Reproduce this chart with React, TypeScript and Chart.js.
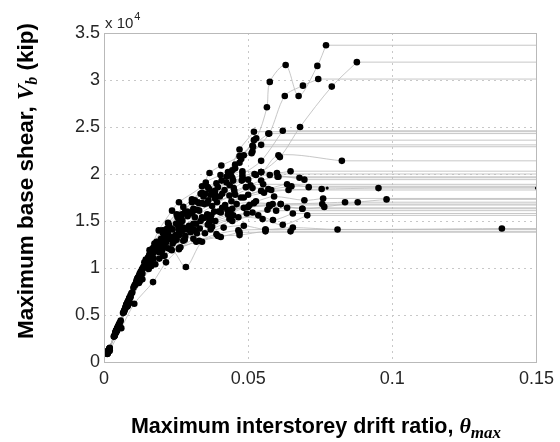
import React, { useEffect, useRef } from "react";
import { Chart, registerables } from "chart.js";

Chart.register(...registerables);

// Axis limits and ticks
const X_MAX = 0.15;
const Y_MAX = 35000;
const X_STEP = 0.05;
const Y_STEP = 5000;
const Y_SCALE_EXP = 4;

// IDA records: [max interstorey drift ratio, max base shear (kip)]
const rec01 = [[0.0012,900],[0.0035,2700],[0.0068,5300],[0.0105,8100],[0.0145,10900],[0.019,14000],[0.0236,16100],[0.026,17000],[0.034,18700],[0.0366,20100],[0.0407,20900],[0.047,21900],[0.0528,23800],[0.0565,27100],[0.0575,29800],[0.063,31600],[0.0675,28300],[0.074,31500],[0.077,33700]];
const rec02 = [[0.0015,1150],[0.0044,3400],[0.0082,6400],[0.0124,9400],[0.0166,12000],[0.0215,14100],[0.027,15700],[0.0325,17000],[0.038,18100],[0.0448,19300],[0.0527,19900],[0.061,21800],[0.068,25000],[0.079,29300],[0.0877,31900]];
const rec03 = [[0.0016,1250],[0.0048,3700],[0.0088,6800],[0.0132,9900],[0.0175,12600],[0.0222,14800],[0.0275,16500],[0.0335,17900],[0.039,19000],[0.0445,20400],[0.0476,21600],[0.0512,22200],[0.0573,24300],[0.0627,28300],[0.069,29400],[0.0743,30100]];
const rec04 = [[0.0013,1000],[0.004,3100],[0.0076,5900],[0.0116,8900],[0.0158,11900],[0.0202,14000],[0.0252,15700],[0.0305,17300],[0.036,18600],[0.0425,19700],[0.048,20300],[0.0545,20200],[0.0605,22000],[0.0825,21400]];
const rec05 = [[0.0014,1100],[0.0042,3300],[0.0078,6100],[0.0118,8900],[0.016,11600],[0.0205,13700],[0.0255,15400],[0.0315,17200],[0.0365,18400],[0.043,20200],[0.047,22600],[0.052,24500]];
const rec06 = [[0.0016,1200],[0.0047,3600],[0.0085,6500],[0.0128,9500],[0.0172,12200],[0.022,14200],[0.028,15900],[0.0345,17600],[0.0395,18600],[0.0445,19600],[0.0476,21900],[0.0515,23000],[0.057,24300]];
const rec07 = [[0.0011,850],[0.0038,2900],[0.007,5500],[0.0112,8500],[0.0155,11200],[0.0198,13100],[0.025,14700],[0.031,16300],[0.037,17800],[0.0425,19100],[0.048,20000],[0.0545,21400],[0.062,24600]];
const rec08 = [[0.0018,1400],[0.0052,4000],[0.0092,7100],[0.0136,10100],[0.0178,12300],[0.0228,14300],[0.0288,16000],[0.0352,17900],[0.0408,19300],[0.0455,20600],[0.0485,22000],[0.052,23600]];
const rec09 = [[0.0013,1000],[0.0045,3500],[0.0082,6300],[0.0122,9200],[0.0165,11700],[0.0212,13600],[0.0268,15100],[0.033,16900],[0.0385,18200],[0.044,19900],[0.047,21200],[0.0517,22900]];
const rec10 = [[0.0017,1300],[0.0049,3800],[0.0088,6800],[0.013,9700],[0.0168,11500],[0.021,12800],[0.026,14000],[0.0315,15400],[0.0375,16600],[0.0435,17700],[0.0492,18600],[0.0545,19300],[0.0602,19700],[0.0678,19600]];
const rec11 = [[0.0012,950],[0.0041,3200],[0.0076,5900],[0.0117,8900],[0.0158,11300],[0.0205,12900],[0.0258,14400],[0.0305,15800],[0.0362,17200],[0.0418,18300],[0.0478,19300],[0.0545,20200],[0.06,20100],[0.0647,20300]];
const rec12 = [[0.0015,1150],[0.0044,3400],[0.008,6200],[0.0121,9000],[0.0162,11000],[0.0208,12400],[0.0262,13500],[0.032,14700],[0.0382,16000],[0.0442,17100],[0.05,17800],[0.057,18400],[0.0635,18900],[0.071,18600]];
const rec13 = [[0.0019,1450],[0.0055,4200],[0.0095,7300],[0.0138,10000],[0.018,11900],[0.0235,13200],[0.0295,14500],[0.0358,15700],[0.042,16700],[0.0485,17500],[0.0555,18000],[0.064,18300],[0.0755,18400],[0.0952,18500]];
const rec14 = [[0.0014,1050],[0.0043,3300],[0.0079,6000],[0.0119,8700],[0.0158,10700],[0.0202,11900],[0.0252,13000],[0.0312,14100],[0.0372,15100],[0.0438,16000],[0.0505,16700],[0.0585,16800],[0.0688,16300],[0.0764,16500],[0.088,17000],[0.098,17300]];
const rec15 = [[0.0016,1250],[0.0046,3500],[0.0084,6400],[0.0125,9200],[0.0165,11300],[0.0215,12700],[0.027,13900],[0.0335,15000],[0.0398,16000],[0.046,16800],[0.0527,17100],[0.059,17600],[0.0695,17200],[0.076,17400]];
const rec16 = [[0.0013,1000],[0.0039,3000],[0.0073,5600],[0.0114,8500],[0.0152,10500],[0.0196,11800],[0.0245,12900],[0.0302,13900],[0.0365,14900],[0.043,15700],[0.05,16500],[0.0613,16800],[0.0757,16800]];
const rec17 = [[0.0018,1350],[0.0053,4000],[0.0092,6900],[0.0133,9400],[0.0172,11000],[0.0222,12100],[0.028,13000],[0.035,13700],[0.0415,14300],[0.0485,14500],[0.056,14100],[0.0655,14300],[0.081,14100],[0.138,14200]];
const rec18 = [[0.0015,1100],[0.0045,3300],[0.0081,5900],[0.0124,8600],[0.0164,10200],[0.021,11300],[0.0265,12200],[0.033,12900],[0.0395,13400],[0.047,13500],[0.056,13900],[0.0647,13900]];
const rec19 = [[0.0017,1250],[0.005,3600],[0.009,6300],[0.0133,8800],[0.0178,10400],[0.0235,11900],[0.0284,10100],[0.034,12800],[0.0405,13300],[0.047,13800]];
const rec20 = [[0.002,1200],[0.006,3600],[0.0105,6200],[0.017,8500],[0.0215,10600],[0.026,12000],[0.031,13100],[0.037,14100],[0.0445,15000],[0.0535,15600],[0.0586,15100],[0.0655,15800]];
const rec21 = [[0.0012,900],[0.0037,2800],[0.007,5400],[0.0109,8300],[0.0148,10400],[0.019,11700],[0.024,12800],[0.03,13800],[0.036,14600],[0.0466,15400],[0.055,15200],[0.062,14600],[0.0705,15600]];
const rec22 = [[0.0016,1200],[0.0048,3700],[0.0087,6700],[0.0129,9500],[0.017,11600],[0.0218,13000],[0.0275,14300],[0.034,15400],[0.0405,15900],[0.0485,16400],[0.0575,16600],[0.0688,16300]];
const rec23 = [[0.0013,1000],[0.004,3100],[0.0077,5900],[0.0116,8700],[0.0156,10900],[0.0198,12300],[0.0248,13500],[0.031,14700],[0.0372,15600],[0.0445,16300],[0.052,16900],[0.0613,16800],[0.0836,17000]];
const rec24 = [[0.0014,1100],[0.0043,3400],[0.0081,6300],[0.0124,9300],[0.0166,11900],[0.0212,13500],[0.0265,14800],[0.0322,16200],[0.0385,17400],[0.045,18500],[0.05,19400],[0.0575,19900],[0.0695,19400]];
const rec25 = [[0.0015,1150],[0.0046,3600],[0.0085,6600],[0.0127,9600],[0.0171,12100],[0.0218,13800],[0.0272,15000],[0.033,16100],[0.0392,17000],[0.0455,17800],[0.0515,18500],[0.058,18300]];
const rec26 = [[0.0017,1300],[0.0051,3900],[0.009,6900],[0.0131,9600],[0.0174,11800],[0.0225,13100],[0.0285,14100],[0.0345,15300],[0.041,16400],[0.0475,17500],[0.0545,18200],[0.065,18700]];
const rec27 = [[0.0012,900],[0.0036,2800],[0.0069,5300],[0.0108,8200],[0.0149,10800],[0.019,12500],[0.0238,14100],[0.029,15500],[0.0348,16800],[0.041,17900],[0.048,19700],[0.0545,20200],[0.0605,19700]];
const rec28 = [[0.002,1500],[0.0058,4400],[0.0098,7400],[0.014,10200],[0.0182,12000],[0.0235,13300],[0.0298,14400],[0.0362,15400],[0.0428,16200],[0.0573,16700]];
const rec29 = [[0.0014,1050],[0.0042,3200],[0.0079,5900],[0.012,8600],[0.016,10300],[0.0205,11300],[0.026,12100],[0.032,12800],[0.039,13600],[0.0466,14000],[0.056,14100]];
const rec30 = [[0.0011,900],[0.0034,2700],[0.0066,5200],[0.0102,7900],[0.014,10600],[0.0182,12800],[0.0225,14600],[0.0305,17000],[0.034,18000],[0.0353,19100],[0.0404,19900],[0.0455,21000],[0.0515,22400],[0.0545,23100]];
const rec31 = [[0.0013,1050],[0.0041,3300],[0.0077,6100],[0.0118,9000],[0.0157,11400],[0.0196,12900],[0.0232,14200],[0.0268,15300],[0.031,16100],[0.0358,16900],[0.0402,17600],[0.0452,18200],[0.0508,18800],[0.0552,18900]];
const rec32 = [[0.0017,1300],[0.0049,3700],[0.0086,6500],[0.0127,9100],[0.0163,10800],[0.0199,11800],[0.0238,12600],[0.0282,13400],[0.0332,14200],[0.0386,15000],[0.0448,15600],[0.0515,15900],[0.0597,16100]];
const rec33 = [[0.0012,950],[0.0039,3100],[0.0074,5800],[0.0113,8700],[0.0153,11100],[0.0188,12600],[0.0222,13700],[0.0258,14800],[0.0295,15900],[0.034,16900],[0.0385,17900],[0.0436,18800],[0.0482,19500],[0.0522,20000]];
const rec34 = [[0.0016,1200],[0.0047,3500],[0.0083,6000],[0.0121,8400],[0.0155,9900],[0.0192,11000],[0.0231,12000],[0.0275,12900],[0.0322,13700],[0.0375,14400],[0.0435,15200],[0.0495,15800],[0.0567,16200],[0.0635,16400]];

const RECORDS = [rec01, rec02, rec03, rec04, rec05, rec06, rec07, rec08, rec09, rec10,
  rec11, rec12, rec13, rec14, rec15, rec16, rec17, rec18, rec19, rec20,
  rec21, rec22, rec23, rec24, rec25, rec26, rec27, rec28, rec29, rec30,
  rec31, rec32, rec33, rec34];

// small flatline markers
const SMALL_MARKERS = [[0.0774, 18500], [0.15, 18500]];

const TEXT_COLOR = "#262626";
const SANS = '"Liberation Sans", Arial, sans-serif';
const SERIF = '"Liberation Serif", "DejaVu Serif", serif';
const LINE_COLOR = "rgba(185,185,185,0.8)";

type Run = { text: string; font: string; dy?: number };

function drawRuns(ctx: CanvasRenderingContext2D, runs: Run[], cx: number, baseline: number) {
  let total = 0;
  const widths = runs.map((r) => {
    ctx.font = r.font;
    const w = ctx.measureText(r.text).width;
    total += w;
    return w;
  });
  let x = cx - total / 2;
  ctx.textAlign = "left";
  ctx.textBaseline = "alphabetic";
  runs.forEach((r, i) => {
    ctx.font = r.font;
    ctx.fillText(r.text, x, baseline + (r.dy || 0));
    x += widths[i];
  });
}

const decorPlugin = {
  id: "decor",
  afterDraw(chart: any) {
    const { ctx, chartArea: a } = chart;
    ctx.save();
    ctx.strokeStyle = "#b9b9b9";
    ctx.lineWidth = 1;
    ctx.strokeRect(Math.round(a.left) + 0.5, Math.round(a.top) + 0.5, Math.round(a.right - a.left), Math.round(a.bottom - a.top));

    ctx.fillStyle = TEXT_COLOR;
    ctx.textAlign = "left";
    ctx.textBaseline = "alphabetic";
    ctx.font = `15px ${SANS}`;
    const base = "x 10";
    ctx.fillText(base, a.left + 1, 28);
    const bw = ctx.measureText(base).width;
    ctx.font = `11px ${SANS}`;
    ctx.fillText(String(Y_SCALE_EXP), a.left + 2 + bw, 20);

    ctx.fillStyle = "#000";
    drawRuns(ctx, [
      { text: "Maximum interstorey drift ratio, ", font: `bold 21.5px ${SANS}` },
      { text: "θ", font: `italic bold 22px ${SERIF}` },
      { text: "max", font: `italic bold 17px ${SERIF}`, dy: 5 },
    ], 316, 433);

    ctx.save();
    ctx.translate(25, 181);
    ctx.rotate(-Math.PI / 2);
    drawRuns(ctx, [
      { text: "Maximum base shear, ", font: `bold 22.5px ${SANS}` },
      { text: "V", font: `italic bold 23px ${SERIF}` },
      { text: "b", font: `italic bold 16px ${SERIF}`, dy: 4 },
      { text: " (kip)", font: `bold 22.5px ${SANS}` },
    ], 0, 8);
    ctx.restore();
    ctx.restore();
  },
};

export default function App() {
  const ref = useRef<HTMLCanvasElement | null>(null);

  useEffect(() => {
    document.body.style.margin = "0";
    const canvas = ref.current;
    if (!canvas) return;

    const pointData = RECORDS.flat().map(([x, y]) => ({ x, y }));
    const curveSets = RECORDS.map((rec) => ({
      type: "scatter" as const,
      data: rec.map(([x, y]) => ({ x, y })),
      showLine: true,
      borderColor: LINE_COLOR,
      borderWidth: 1,
      pointRadius: 0,
      tension: 0.3,
      order: 2,
    }));
    const flatSets = RECORDS.map((rec) => {
      const last = rec[rec.length - 1];
      return {
        type: "scatter" as const,
        data: [{ x: last[0], y: last[1] }, { x: X_MAX, y: last[1] }],
        showLine: true,
        borderColor: LINE_COLOR,
        borderWidth: 1,
        pointRadius: 0,
        tension: 0,
        order: 3,
      };
    });

    const chart = new Chart(canvas, {
      type: "scatter",
      data: {
        datasets: [
          {
            data: pointData,
            pointRadius: 3.3,
            pointBackgroundColor: "#000",
            pointBorderWidth: 0,
            showLine: false,
            order: 0,
          },
          {
            data: SMALL_MARKERS.map(([x, y]) => ({ x, y })),
            pointRadius: 1.6,
            pointBackgroundColor: "#000",
            pointBorderWidth: 0,
            showLine: false,
            order: 1,
          },
          ...curveSets,
          ...flatSets,
        ] as any,
      },
      options: {
        animation: false,
        responsive: false,
        devicePixelRatio: 1,
        layout: { padding: { top: 33, right: 19, left: 0, bottom: 0 } },
        plugins: { legend: { display: false }, tooltip: { enabled: false } },
        scales: {
          x: {
            type: "linear",
            min: 0,
            max: X_MAX,
            afterFit: (s: any) => { s.height = 80; },
            ticks: {
              stepSize: X_STEP,
              padding: 6,
              color: TEXT_COLOR,
              font: { family: SANS, size: 18 },
              maxRotation: 0,
              callback: (v: any) => String(Number(Number(v).toFixed(4))),
            },
            grid: { color: "#c8c8c8", drawTicks: false, lineWidth: 1 },
            border: { display: false, dash: [2, 4] },
          },
          y: {
            type: "linear",
            min: 0,
            max: Y_MAX,
            afterFit: (s: any) => { s.width = 104; },
            ticks: {
              stepSize: Y_STEP,
              padding: 4,
              color: TEXT_COLOR,
              font: { family: SANS, size: 18 },
              callback: (v: any) => String(Number((Number(v) / Math.pow(10, Y_SCALE_EXP)).toFixed(2))),
            },
            grid: { color: "#c8c8c8", drawTicks: false, lineWidth: 1 },
            border: { display: false, dash: [2, 4] },
          },
        },
      } as any,
      plugins: [decorPlugin],
    });

    return () => chart.destroy();
  }, []);

  return (
    <div style={{ width: 560, height: 442, background: "#fff" }}>
      <canvas ref={ref} width={560} height={442} />
    </div>
  );
}
